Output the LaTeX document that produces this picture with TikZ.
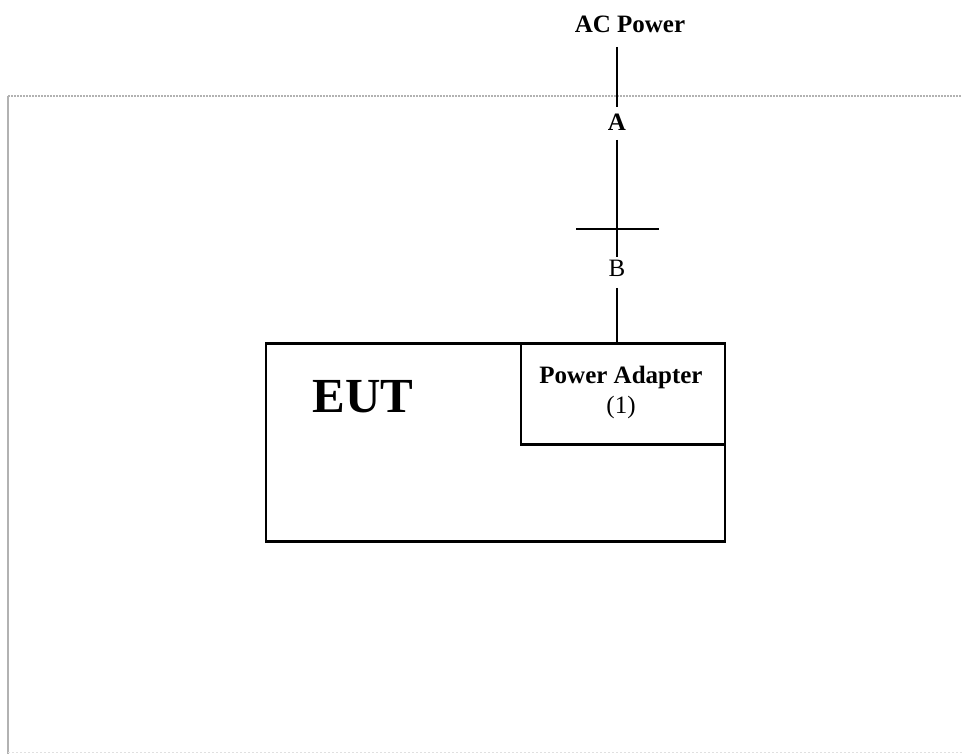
\documentclass[tikz,border=0pt]{standalone}
\usepackage{fontspec}
\setmainfont{Liberation Serif}
\begin{document}
\begin{tikzpicture}[x=1pt,y=-1pt,
  lblb/.style={inner sep=0pt, anchor=base, font=\bfseries\fontsize{25}{29}\selectfont},
  lblr/.style={inner sep=0pt, anchor=base, font=\fontsize{25}{29}\selectfont},
  boxs/.style={draw=black, line width=2.6pt, inner sep=0pt, anchor=north west},
  conn/.style={draw=black, line width=2pt},
  frame/.style={draw=black!30, line width=1.6pt}]
\useasboundingbox (0,0) rectangle (962,754);
% frame
\draw[frame, dash pattern=on 1.5pt off 1.5pt] (8,96) -- (962,96);
\draw[frame] (8,96) -- (8,754);
\draw[draw=black!12, line width=1pt, dash pattern=on 2pt off 2pt] (8,752) -- (962,752);
% labels
\node[lblb] (ac) at (630,33) {AC Power};
\node[lblb] (A) at (617,131) {A};
\node[lblr] (B) at (617,277) {B};
% boxes
\node[boxs, minimum width=459pt, minimum height=198pt] (eut) at (264.5,342) {};
\node[boxs, minimum width=204pt, minimum height=101pt] (pa) at (519.5,342) {};
\node[lblb, font=\bfseries\fontsize{49}{55}\selectfont] (euttxt) at (363,412) {EUT};
\node[lblb] (patxt) at (621,383) {Power Adapter};
\node[lblr] (paone) at (621,413) {(1)};
% connector end points
\coordinate (c1) at (617,47);
\coordinate (c2) at (617,107);
\coordinate (c3) at (617,140);
\coordinate (c4) at (617,257);
\coordinate (c5) at (617,288);
\coordinate (xl) at (576,229);
\coordinate (xr) at (659,229);
\draw[conn] (c1) -- (c2);
\draw[conn] (c3) -- (c4);
\draw[conn] (xl) -- (xr);
\draw[conn] (c5) -- (c5 |- pa.north);
\end{tikzpicture}
\end{document}
